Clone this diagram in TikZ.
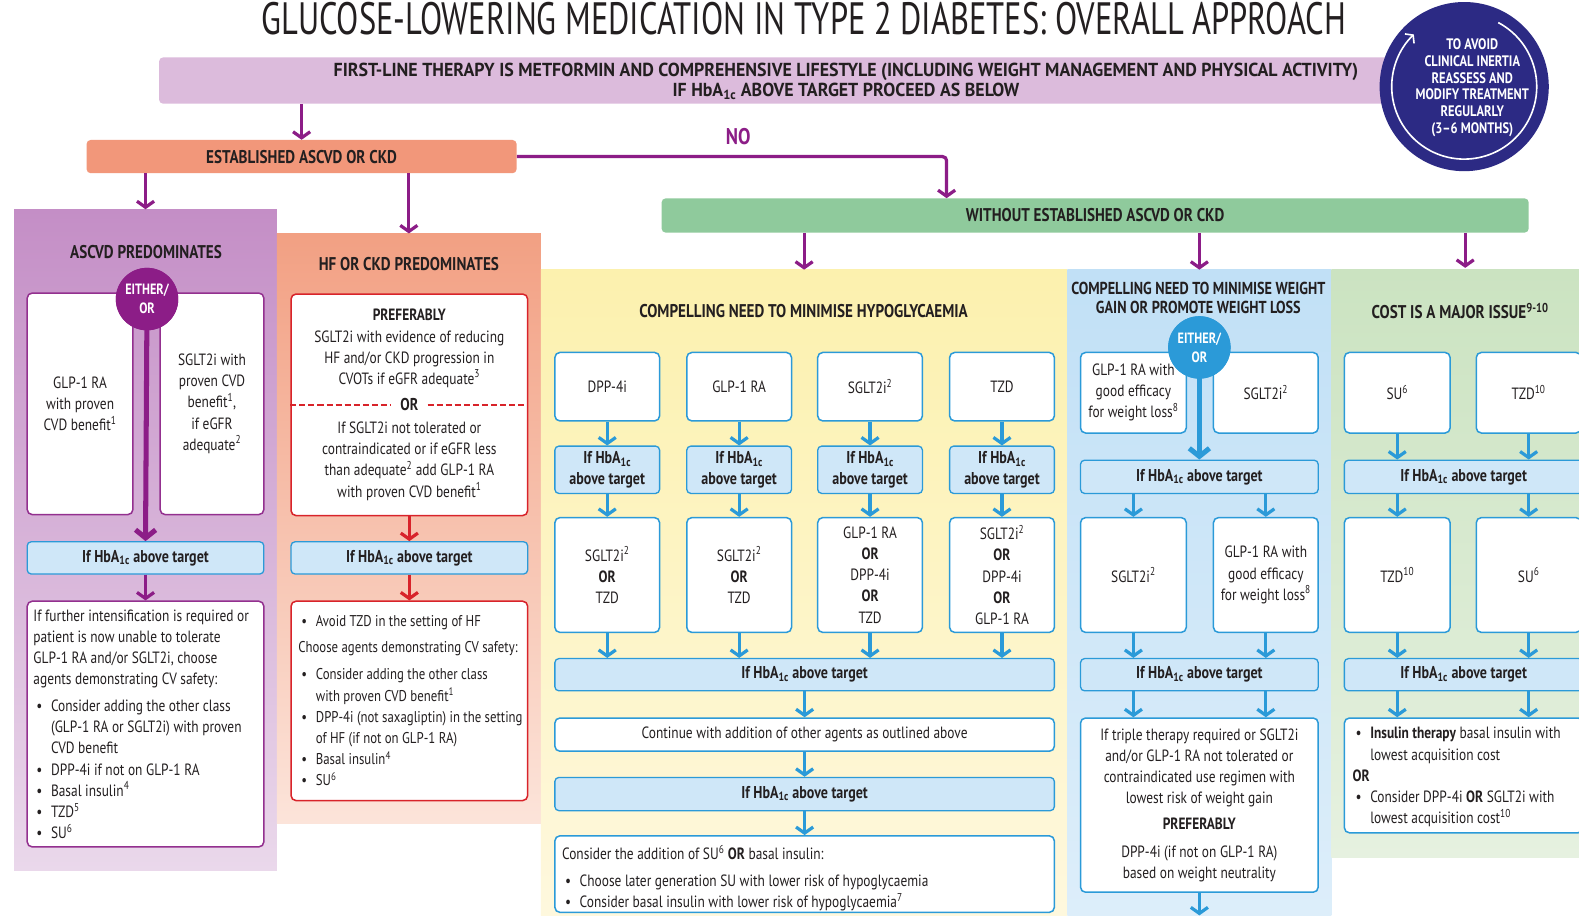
\documentclass[tikz,border=0pt]{standalone}
\usepackage{fontspec}
\setmainfont[FakeStretch=0.82]{PT Sans}
\newfontfamily\dgWide[FakeStretch=0.95]{PT Sans}
\usepackage{graphicx}
\usetikzlibrary{arrows.meta,calc}
\definecolor{pdark}{HTML}{8C1D87}
\definecolor{pbox}{HTML}{93308F}
\definecolor{ptop}{HTML}{DCBBDC}
\definecolor{orh}{HTML}{F2977A}
\definecolor{grh}{HTML}{8FCA9C}
\definecolor{navy}{HTML}{2C2A84}
\definecolor{bblue}{HTML}{2B9AD8}
\definecolor{ifb}{HTML}{CFE7F8}
\definecolor{rred}{HTML}{D8232A}
\definecolor{txt}{HTML}{231F20}
\definecolor{paTop}{HTML}{C48EC6}
\definecolor{paBot}{HTML}{EAD8EB}
\definecolor{pbTop}{HTML}{F2A083}
\definecolor{pbBot}{HTML}{FCE4DA}
\definecolor{pcTop}{HTML}{FCF1AE}
\definecolor{pcBot}{HTML}{FEF8DE}
\definecolor{pdTop}{HTML}{C1E0F6}
\definecolor{pdBot}{HTML}{DDEEFA}
\definecolor{peTop}{HTML}{CBE3C1}
\definecolor{peBot}{HTML}{E6F1E0}
\newcommand{\dgBody}{\fontsize{16.2}{21}\selectfont}
\newcommand{\dgBodyS}{\fontsize{15.5}{21}\selectfont}
\newcommand{\dgHead}{\bfseries\fontsize{18.3}{19.5}\selectfont}
\newcommand{\dgHeadS}{\bfseries\fontsize{17.2}{19}\selectfont}
\newcommand{\dgIf}{\bfseries\fontsize{17}{21}\selectfont}
\newcommand{\dgEo}{\bfseries\fontsize{14.8}{19}\selectfont}
\newcommand{\dgBar}{\dgWide\bfseries\fontsize{18.7}{19}\selectfont}
\newcommand{\dgCirc}{\bfseries\fontsize{15.1}{16.6}\selectfont}
\newcommand{\dgTitle}{\fontsize{45}{45}\selectfont}
\newcommand{\dgHbA}{HbA\textsubscript{1c}}
\newcommand{\dgS}[1]{\textsuperscript{#1}}
\newcommand{\dgB}{\hspace*{3pt}\makebox[14.5pt][l]{\textbullet}}
\newcommand{\dgI}{\hspace*{17.5pt}}
\tikzset{
  every node/.style={text=txt, inner sep=0pt},
  sz/.style 2 args={minimum width=#1pt, minimum height=#2pt},
  wbox/.style={draw=#1, fill=white, line width=1.5pt, rounded corners=5pt, font=\dgBody, align=center},
  ibox/.style={draw=bblue, fill=ifb, line width=1.3pt, rounded corners=4pt, font=\dgIf, align=center},
  hdr/.style={font=\dgHead, align=center},
  txtl/.style={font=\dgBody, align=left, anchor=north west},
  arr/.style={draw=#1, line width=3.2pt, -{Straight Barb[length=6pt,width=17pt]}},
  thk/.style={draw=#1, line width=5pt, -{Straight Barb[length=8pt,width=20pt]}},
  eo/.style={circle, fill=#1, minimum size=62pt, font=\dgEo, text=white, align=center},
  panel/.style 2 args={top color=#1, bottom color=#2, draw=none},
}
\begin{document}
\begin{tikzpicture}[x=1pt,y=-1pt]
\useasboundingbox (0,0) rectangle (1568,909);
\clip (0,0) rectangle (1568,909);
\fill[white] (0,0) rectangle (1568,909);

% panels
\node[panel={paTop}{paBot}, sz={261}{656}] (panA) at (144.5,536) {};
\node[panel={pbTop}{pbBot}, sz={262}{586}] (panB) at (406,525) {};
\node[panel={pcTop}{pcBot}, sz={523}{647}] (panC) at (798.5,591.5) {};
\node[panel={pdTop}{pdBot}, sz={262}{647}] (panD) at (1191,591.5) {};
\node[panel={peTop}{peBot}, sz={253}{584}] (panE) at (1448.5,560) {};

% title
\node (title) at (798,19) {\dgTitle\resizebox{1077pt}{\height}{GLUCOSE-LOWERING MEDICATION IN TYPE 2 DIABETES: OVERALL APPROACH}};

% top bar
\node[fill=ptop, rounded corners=4pt, sz={1240}{46}] (bar) at (778,80) {};
\node[font=\dgBar, align=center] (bartext) at (840,81) {FIRST-LINE THERAPY IS METFORMIN AND COMPREHENSIVE LIFESTYLE (INCLUDING WEIGHT MANAGEMENT AND PHYSICAL ACTIVITY)\\IF \dgHbA{} ABOVE TARGET PROCEED AS BELOW};

% circle
\node[circle, fill=navy, minimum size=168pt] (circ) at (1454,86) {};
\draw[white, line width=1.6pt, -{Straight Barb[length=5pt,width=13pt]}] ($(circ.center)+(-62:72)$) arc[start angle=-62, end angle=226, radius=72];
\node[font=\dgCirc, text=white, align=center] (circtext) at (1462,87) {TO AVOID\\CLINICAL INERTIA\\REASSESS AND\\MODIFY TREATMENT\\REGULARLY\\(3--6 MONTHS)};

% established / without
\node[fill=orh, rounded corners=4pt, sz={427}{33}, font=\dgHead] (est) at (299.5,155.5) {ESTABLISHED ASCVD OR CKD};
\node[fill=grh, rounded corners=4pt, sz={861}{34}, font=\dgHead] (gb) at (1087.5,214) {WITHOUT ESTABLISHED ASCVD OR CKD};
\node[font=\bfseries\fontsize{22.5}{22.5}\selectfont, text=pdark] (no) at (733,136) {NO};
\coordinate (nocorner) at (940,157);
\coordinate (garr) at (1455,266);

\draw[arr=pdark] (bar.south -| est.north) -- (est.north);
\draw[arr=pdark, rounded corners=4pt] (est.east) -| (gb.north -| nocorner);
\draw[arr=pdark] (est.south -| panA.north) -- (panA.north);
\draw[arr=pdark] (est.south -| panB.north) -- (panB.north);
\draw[arr=pdark] (gb.south -| panC.north) -- (panC.north);
\draw[arr=pdark] (gb.south -| panD.north) -- (panD.north);
\draw[arr=pdark] (gb.south -| garr) -- (garr);

% ---------- panel A
\node[hdr] (hA) at (145,250) {ASCVD PREDOMINATES};
\node[wbox=pbox, sz={105}{220}] (a1) at (79.5,401) {GLP-1 RA\\with proven\\CVD benefit\dgS{1}};
\node[wbox=pbox, sz={103}{220}] (a2) at (210.5,401) {SGLT2i with\\proven CVD\\benefit\dgS{1},\\if eGFR\\adequate\dgS{2}};
\node[ibox, sz={235}{32}] (ifA) at (144.5,554) {If \dgHbA{} above target};
\node[eo=pdark] (eoA) at (146,297) {};
\draw[thk=pdark] (eoA.center) -- (ifA.north);
\node[eo=pdark] (eoAt) at (146,297) {EITHER/\\OR};
\node[wbox=pbox, sz={235}{244}] (tA) at (144.5,719) {};
\draw[arr=pdark] (ifA.south) -- (tA.north);
\node[txtl] (tAtext) at (33,605) {If further intensification is required or\\
patient is now unable to tolerate\\
GLP-1 RA and/or SGLT2i, choose\\
agents demonstrating CV safety:\\[6pt]
\dgB Consider adding the other class\\
\dgI (GLP-1 RA or SGLT2i) with proven\\
\dgI CVD benefit\\
\dgB DPP-4i if not on GLP-1 RA\\
\dgB Basal insulin\dgS{4}\\
\dgB TZD\dgS{5}\\
\dgB SU\dgS{6}};

% ---------- panel B
\node[hdr] (hB) at (406,262) {HF OR CKD PREDOMINATES};
\node[wbox=rred, sz={235}{220}] (b1) at (406.5,402) {};
\node[font=\dgBody, align=center] (b1top) at (406.5,346) {\textbf{PREFERABLY}\\SGLT2i with evidence of reducing\\HF and/or CKD progression in\\CVOTs if eGFR adequate\dgS{3}};
\node[font=\dgIf] (bor) at (406.5,402) {OR};
\draw[rred, line width=1.4pt, dash pattern=on 6pt off 3pt] (b1.west |- bor) -- ([xshift=-9pt]bor.west);
\draw[rred, line width=1.4pt, dash pattern=on 6pt off 3pt] ([xshift=9pt]bor.east) -- (b1.east |- bor);
\node[font=\dgBody, align=center] (b1bot) at (406.5,458) {If SGLT2i not tolerated or\\contraindicated or if eGFR less\\than adequate\dgS{2} add GLP-1 RA\\with proven CVD benefit\dgS{1}};
\node[ibox, sz={235}{32}] (ifB) at (406.5,554) {If \dgHbA{} above target};
\node[wbox=rred, sz={235}{198}] (tB) at (406.5,696) {};
\draw[arr=rred] (b1.south) -- (ifB.north);
\draw[arr=rred] (ifB.south) -- (tB.north);
\node[txtl, font=\dgBodyS] (tBtext) at (296,611) {\dgB Avoid TZD in the setting of HF\\[5pt]
Choose agents demonstrating CV safety:\\[6pt]
\dgB Consider adding the other class\\
\dgI with proven CVD benefit\dgS{1}\\
\dgB DPP-4i (not saxagliptin) in the setting\\
\dgI of HF (if not on GLP-1 RA)\\
\dgB Basal insulin\dgS{4}\\
\dgB SU\dgS{6}};

% ---------- panel C
\node[hdr] (hC) at (798,309) {COMPELLING NEED TO MINIMISE HYPOGLYCAEMIA};
\node[wbox=bblue, sz={104}{68}] (c11) at (603,384) {DPP-4i};
\node[wbox=bblue, sz={104}{68}] (c21) at (734,384) {GLP-1 RA};
\node[wbox=bblue, sz={104}{68}] (c31) at (864,384) {SGLT2i\dgS{2}};
\node[wbox=bblue, sz={104}{68}] (c41) at (995,384) {TZD};
\foreach \n/\x in {c1/603,c2/734,c3/864,c4/995}{
  \node[ibox, sz={104}{47}] (\n if) at (\x,466.5) {If \dgHbA\\above target};
}
\node[wbox=bblue, sz={104}{114}] (c12) at (603,571) {SGLT2i\dgS{2}\\\textbf{OR}\\TZD};
\node[wbox=bblue, sz={104}{114}] (c22) at (734,571) {SGLT2i\dgS{2}\\\textbf{OR}\\TZD};
\node[wbox=bblue, sz={104}{114}] (c32) at (864,571) {GLP-1 RA\\\textbf{OR}\\DPP-4i\\\textbf{OR}\\TZD};
\node[wbox=bblue, sz={104}{114}] (c42) at (995,571) {SGLT2i\dgS{2}\\\textbf{OR}\\DPP-4i\\\textbf{OR}\\GLP-1 RA};
\node[ibox, sz={496}{32}] (cif1) at (799,670) {If \dgHbA{} above target};
\node[wbox=bblue, sz={496}{33}] (ccont) at (799,729.5) {Continue with addition of other agents as outlined above};
\node[ibox, sz={496}{33}] (cif2) at (799,788.5) {If \dgHbA{} above target};
\node[wbox=bblue, sz={496}{76}] (cfin) at (799,868) {};
\node[txtl] (cfintext) at (558,839) {Consider the addition of SU\dgS{6} \textbf{OR} basal insulin:\\[6pt]
\dgB Choose later generation SU with lower risk of hypoglycaemia\\
\dgB Consider basal insulin with lower risk of hypoglycaemia\dgS{7}};
\foreach \n in {c1,c2,c3,c4}{
  \draw[arr=bblue] (\n1.south) -- (\n if.north);
  \draw[arr=bblue] (\n if.south) -- (\n2.north);
  \draw[arr=bblue] (\n2.south) -- (\n2.south |- cif1.north);
}
\draw[arr=bblue] (cif1.south) -- (ccont.north);
\draw[arr=bblue] (ccont.south) -- (cif2.north);
\draw[arr=bblue] (cif2.south) -- (cfin.north);

% ---------- panel D
\node[hdr, font=\dgHeadS] (hD) at (1190,295.5) {COMPELLING NEED TO MINIMISE WEIGHT\\GAIN OR PROMOTE WEIGHT LOSS};
\node[wbox=bblue, sz={105}{80}] (d1) at (1125.5,390) {GLP-1 RA with\\good efficacy\\for weight loss\dgS{8}};
\node[wbox=bblue, sz={104}{80}] (d2) at (1257,390) {SGLT2i\dgS{2}};
\node[ibox, sz={236}{33}] (dif1) at (1191,473.5) {If \dgHbA{} above target};
\node[eo=bblue] (eoD) at (1191,345) {};
\draw[thk=bblue] (eoD.center) -- (dif1.north);
\node[eo=bblue] (eoDt) at (1191,345) {EITHER/\\OR};
\node[wbox=bblue, sz={105}{114}] (d3) at (1125.5,571) {SGLT2i\dgS{2}};
\node[wbox=bblue, sz={104}{114}] (d4) at (1257,571) {GLP-1 RA with\\good efficacy\\for weight loss\dgS{8}};
\node[ibox, sz={236}{32}] (dif2) at (1191,670) {If \dgHbA{} above target};
\node[wbox=bblue, sz={236}{173}] (dfin) at (1191,799.5) {If triple therapy required or SGLT2i\\and/or GLP-1 RA not tolerated or\\contraindicated use regimen with\\lowest risk of weight gain\\[5pt]\textbf{PREFERABLY}\\[6pt]DPP-4i (if not on GLP-1 RA)\\based on weight neutrality};
\coordinate (dend) at (1191,909);
\draw[arr=bblue] (dif1.south -| d3) -- (d3.north);
\draw[arr=bblue] (dif1.south -| d4) -- (d4.north);
\draw[arr=bblue] (d3.south) -- (d3.south |- dif2.north);
\draw[arr=bblue] (d4.south) -- (d4.south |- dif2.north);
\draw[arr=bblue] (dif2.south -| d3) -- (dfin.north -| d3);
\draw[arr=bblue] (dif2.south -| d4) -- (dfin.north -| d4);
\draw[arr=bblue] (dfin.south) -- (dend);

% ---------- panel E
\node[hdr] (hE) at (1450,309) {COST IS A MAJOR ISSUE\dgS{9-10}};
\node[wbox=bblue, sz={105}{80}] (e1) at (1387.5,390) {SU\dgS{6}};
\node[wbox=bblue, sz={104}{80}] (e2) at (1518,390) {TZD\dgS{10}};
\node[ibox, sz={237}{33}] (eif1) at (1453.5,473.5) {If \dgHbA{} above target};
\node[wbox=bblue, sz={105}{114}] (e3) at (1387.5,571) {TZD\dgS{10}};
\node[wbox=bblue, sz={104}{114}] (e4) at (1518,571) {SU\dgS{6}};
\node[ibox, sz={237}{32}] (eif2) at (1453.5,670) {If \dgHbA{} above target};
\node[wbox=bblue, sz={237}{114}] (efin) at (1453.5,770) {};
\node[txtl] (efintext) at (1343,722) {\dgB \textbf{Insulin therapy} basal insulin with\\
\dgI lowest acquisition cost\\
\textbf{OR}\\
\dgB Consider DPP-4i \textbf{OR} SGLT2i with\\
\dgI lowest acquisition cost\dgS{10}};
\draw[arr=bblue] (e1.south) -- (e1.south |- eif1.north);
\draw[arr=bblue] (e2.south) -- (e2.south |- eif1.north);
\draw[arr=bblue] (eif1.south -| e3) -- (e3.north);
\draw[arr=bblue] (eif1.south -| e4) -- (e4.north);
\draw[arr=bblue] (e3.south) -- (e3.south |- eif2.north);
\draw[arr=bblue] (e4.south) -- (e4.south |- eif2.north);
\draw[arr=bblue] (eif2.south -| e3) -- (efin.north -| e3);
\draw[arr=bblue] (eif2.south -| e4) -- (efin.north -| e4);
\end{tikzpicture}
\end{document}
